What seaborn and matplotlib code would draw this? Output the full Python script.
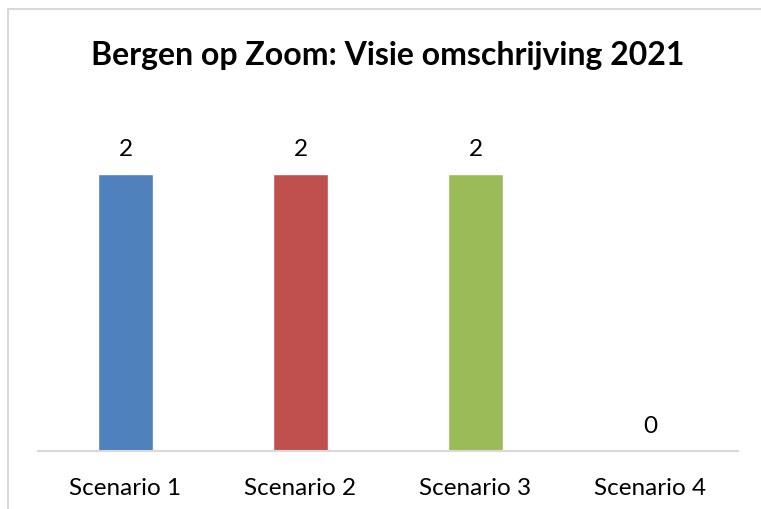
import matplotlib
matplotlib.use("Agg")
import matplotlib.pyplot as plt
import seaborn as sns
import pandas as pd
from matplotlib.patches import Rectangle

# Chart data
scenarios = ["Scenario 1", "Scenario 2", "Scenario 3", "Scenario 4"]
counts = [2, 2, 2, 0]
colors = ["#4F81BD", "#C0504D", "#9BBB59", "#8064A2"]
title = "Bergen op Zoom: Visie omschrijving 2021"

df = pd.DataFrame({"scenario": scenarios, "count": counts})

sns.set_style("white")
plt.rcParams["font.family"] = ["Lato", "DejaVu Sans"]
plt.rcParams["text.color"] = "black"
plt.rcParams["xtick.color"] = "black"

W, H = 761, 510
fig = plt.figure(figsize=(W / 100, H / 100), dpi=100)
ax = fig.add_axes([38 / W, (H - 452) / H, 700 / W, (452 - 106) / H])

sns.barplot(
    data=df,
    x="scenario",
    y="count",
    hue="scenario",
    palette=colors,
    width=0.314,
    legend=False,
    ax=ax,
    saturation=1,
)

for container in ax.containers:
    ax.bar_label(container, fmt="%d", padding=11, fontsize=17.5, color="black")

ax.set_xlim(-0.5, 3.5)
ax.set_ylim(0, 2.5)
ax.set_xlabel("")
ax.set_ylabel("")
ax.set_yticks([])
ax.tick_params(axis="x", length=0, pad=19, labelsize=17.5, labelcolor="black")
for side in ["top", "right", "left"]:
    ax.spines[side].set_visible(False)
ax.spines["bottom"].set_color("#D9D9D9")
ax.spines["bottom"].set_linewidth(1.5)

fig.text(388 / W, 1 - 56 / H, title, ha="center", va="center",
         fontsize=23, fontweight="bold", color="black")

# chart area border (cropped at right and bottom)
fig.patches.append(Rectangle((8 / W, -0.1), 1.2, 1 - 10 / H + 0.1,
                             transform=fig.transFigure, fill=False,
                             edgecolor="#D9D9D9", linewidth=1.5))

fig.savefig("out.png", dpi=100)
